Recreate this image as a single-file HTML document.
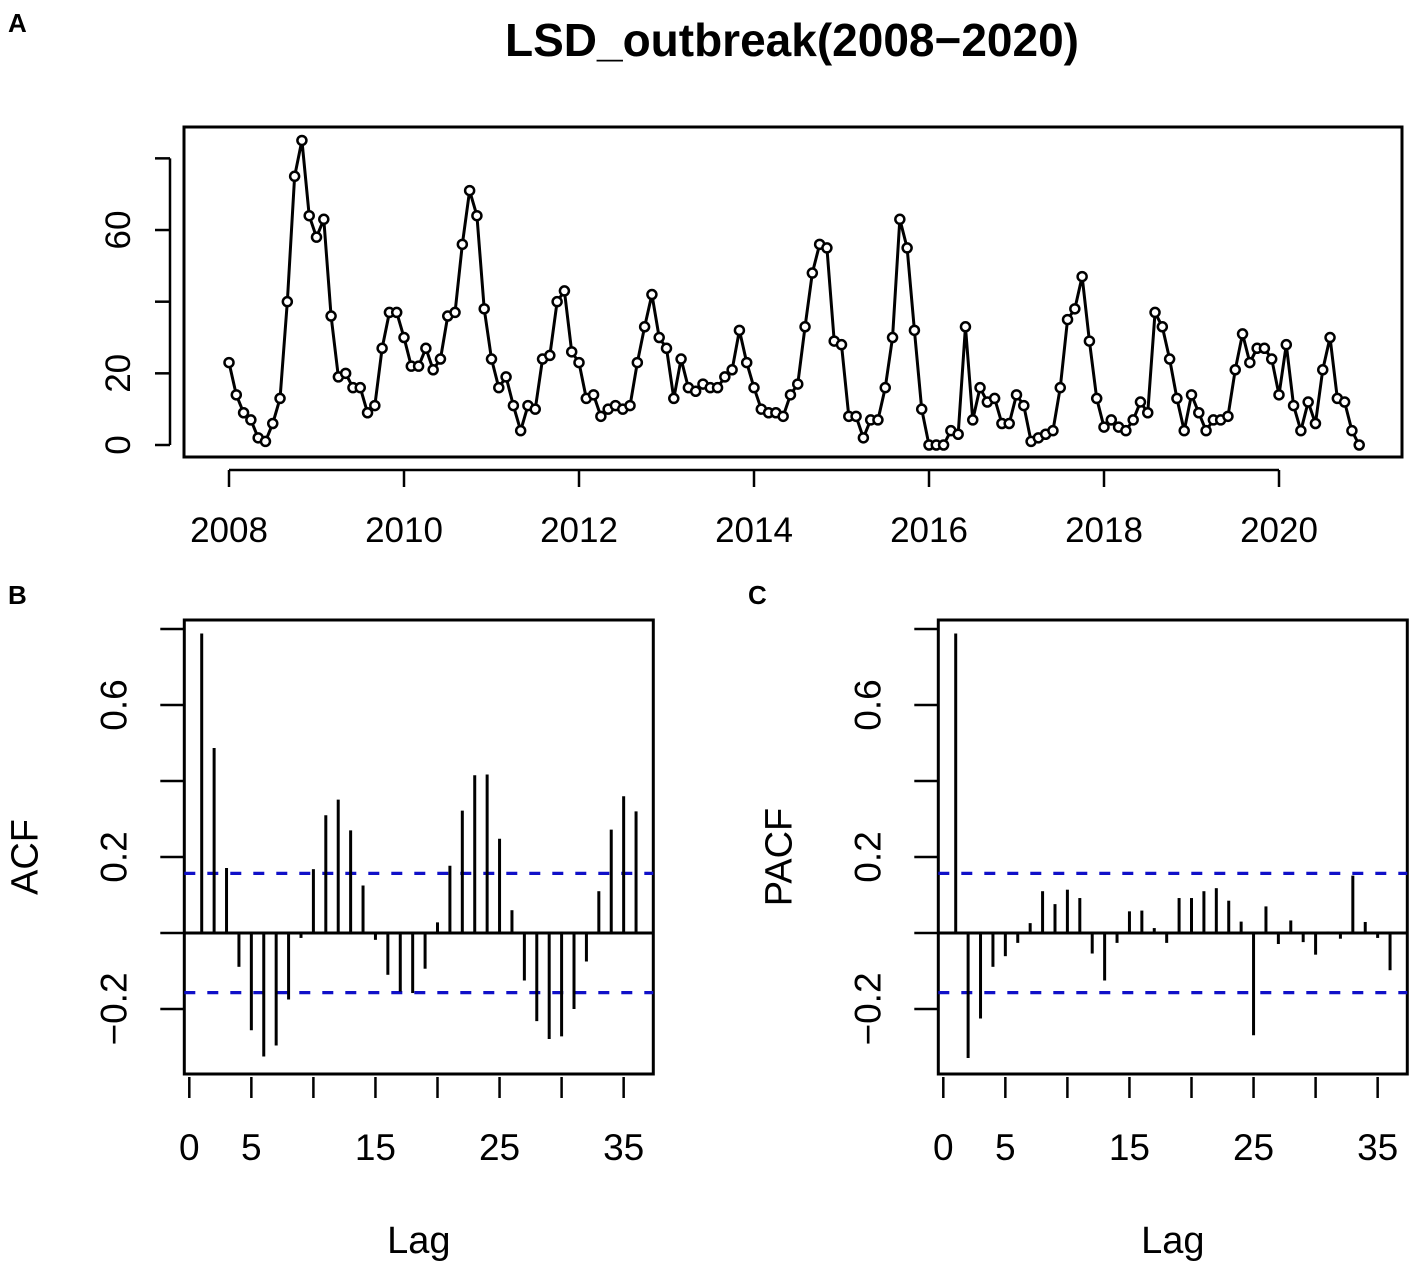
<!DOCTYPE html>
<html><head><meta charset="utf-8"><style>
html,body{margin:0;padding:0;background:#fff;}
svg{display:block;font-family:"Liberation Sans",Arial,sans-serif;}
</style></head><body>
<svg id="fig" width="1414" height="1267" viewBox="0 0 1414 1267">
<text x="8" y="32" font-size="26" font-weight="bold">A</text>
<text x="8" y="604" font-size="26" font-weight="bold">B</text>
<text x="748" y="604" font-size="26" font-weight="bold">C</text>
<text x="792" y="56" font-size="46" font-weight="bold" text-anchor="middle">LSD_outbreak(2008−2020)</text>
<g id="topPanel"></g>
<g id="acf"></g>
<g id="pacf"></g>
</svg>
<script>
const outbreaks2008 = [23,14,9,7,2,1,6,13,40,75,85,64];
const outbreaks2009 = [58,63,36,19,20,16,16,9,11,27,37,37];
const outbreaks2010 = [30,22,22,27,21,24,36,37,56,71,64,38];
const outbreaks2011 = [24,16,19,11,4,11,10,24,25,40,43,26];
const outbreaks2012 = [23,13,14,8,10,11,10,11,23,33,42,30];
const outbreaks2013 = [27,13,24,16,15,17,16,16,19,21,32,23];
const outbreaks2014 = [16,10,9,9,8,14,17,33,48,56,55,29];
const outbreaks2015 = [28,8,8,2,7,7,16,30,63,55,32,10];
const outbreaks2016 = [0,0,0,4,3,33,7,16,12,13,6,6];
const outbreaks2017 = [14,11,1,2,3,4,16,35,38,47,29,13];
const outbreaks2018 = [5,7,5,4,7,12,9,37,33,24,13,4];
const outbreaks2019 = [14,9,4,7,7,8,21,31,23,27,27,24];
const outbreaks2020 = [14,28,11,4,12,6,21,30,13,12,4,0];
const startYear = 2008;
const yearTicks = [2008,2010,2012,2014,2016,2018,2020];
const countTicks = [0,20,40,60,80];
const countTickLabels = ["0","20","","60",""];
const acfValues = [0.788,0.487,0.171,-0.089,-0.256,-0.325,-0.296,-0.175,-0.013,0.168,0.310,0.351,0.270,0.125,-0.018,-0.110,-0.154,-0.158,-0.094,0.028,0.177,0.322,0.415,0.417,0.248,0.060,-0.125,-0.232,-0.279,-0.272,-0.200,-0.075,0.110,0.272,0.360,0.320];
const pacfValues = [0.788,-0.329,-0.225,-0.089,-0.061,-0.026,0.026,0.110,0.076,0.114,0.092,-0.054,-0.125,-0.026,0.057,0.059,0.013,-0.026,0.092,0.092,0.110,0.118,0.085,0.030,-0.269,0.070,-0.029,0.033,-0.024,-0.057,0.004,-0.015,0.151,0.029,-0.013,-0.098];
const confBound = 0.157;
const lagTicks = [0,5,10,15,20,25,30,35];
const lagTickLabels = ["0","5","","15","","25","","35"];
const corrTicks = [-0.2,0,0.2,0.4,0.6,0.8];
const corrTickLabels = ["−0.2","","0.2","","0.6",""];

const NS="http://www.w3.org/2000/svg";
function mk(tag, attrs, parent){const e=document.createElementNS(NS,tag);for(const k in attrs)e.setAttribute(k,attrs[k]);parent.appendChild(e);return e;}

const series=[].concat(outbreaks2008,outbreaks2009,outbreaks2010,outbreaks2011,outbreaks2012,outbreaks2013,outbreaks2014,outbreaks2015,outbreaks2016,outbreaks2017,outbreaks2018,outbreaks2019,outbreaks2020);
const tp=document.getElementById('topPanel');
const xT=t=>229+(t-2008)*87.5;
const yT=v=>445-v*3.583;
let r=mk('rect',{x:184,y:127,width:1218,height:330,fill:'none',stroke:'#000','stroke-width':3},tp);


let ax=mk('line',{x1:xT(2008),x2:xT(2020),y1:470,y2:470,stroke:'#000','stroke-width':2.5},tp);


yearTicks.forEach(y=>{
  const t=mk('line',{x1:xT(y),x2:xT(y),y1:470,y2:487,stroke:'#000','stroke-width':2.5},tp);
  
  
  const l=mk('text',{x:xT(y),y:542,'font-size':35,'text-anchor':'middle'},tp);l.textContent=y;
  
  
});
let ay=mk('line',{x1:170,x2:170,y1:yT(0),y2:yT(80),stroke:'#000','stroke-width':2.5},tp);


countTicks.forEach((v,i)=>{
  const t=mk('line',{x1:155,x2:170,y1:yT(v),y2:yT(v),stroke:'#000','stroke-width':2.5},tp);
  
  
  if(countTickLabels[i]){
    const l=mk('text',{x:0,y:0,'font-size':35,'text-anchor':'middle',transform:`translate(130,${yT(v)}) rotate(-90)`},tp);l.textContent=countTickLabels[i];
    
    
  }
});
const pts=series.map((v,i)=>[xT(startYear+i/12),yT(v)]);
let pl=mk('polyline',{points:pts.map(p=>p.join(',')).join(' '),fill:'none',stroke:'#000','stroke-width':3},tp);


pts.forEach(p=>{
  const c=mk('circle',{cx:p[0],cy:p[1],r:4.5,fill:'#fff',stroke:'#000','stroke-width':2.5},tp);
  
  
});

function corr(g, vals, lag0X, label){
  const xL=l=>lag0X+l*12.41;
  const yC=v=>933-v*380;
  const left=lag0X-5, right=lag0X+464;
  const fr=mk('rect',{x:left,y:620,width:right-left,height:454,fill:'none',stroke:'#000','stroke-width':3},g);
  
  
  const z=mk('line',{x1:left,x2:right,y1:yC(0),y2:yC(0),stroke:'#000','stroke-width':3},g);
  
  
  [confBound,-confBound].forEach(b=>{
    const d=mk('line',{x1:left,x2:right,y1:yC(b),y2:yC(b),stroke:'#1010c8','stroke-width':3.2,'stroke-dasharray':'11,12'},g);
    
    
  });
  vals.forEach((v,i)=>{
    const b=mk('line',{x1:xL(i+1),x2:xL(i+1),y1:yC(0),y2:yC(v),stroke:'#000','stroke-width':3},g);
    
    
  });
  lagTicks.forEach((l,i)=>{
    const t=mk('line',{x1:xL(l),x2:xL(l),y1:1077,y2:1098,stroke:'#000','stroke-width':2.5},g);
    
    
    if(lagTickLabels[i]){
      const tx=mk('text',{x:xL(l),y:1160,'font-size':37,'text-anchor':'middle'},g);tx.textContent=lagTickLabels[i];
      
      
    }
  });
  corrTicks.forEach((v,i)=>{
    const t=mk('line',{x1:left-24,x2:left,y1:yC(v),y2:yC(v),stroke:'#000','stroke-width':2.5},g);
    
    
    if(corrTickLabels[i]){
      const tx=mk('text',{x:0,y:0,'font-size':37,'text-anchor':'middle',transform:`translate(${left-58},${yC(v)}) rotate(-90)`},g);tx.textContent=corrTickLabels[i];
      
      
    }
  });
  const xl=mk('text',{x:(left+right)/2,y:1253,'font-size':38,'text-anchor':'middle'},g);xl.textContent='Lag';
  
  
  const yl=mk('text',{x:0,y:0,'font-size':38,'text-anchor':'middle',transform:`translate(${left-147},${yC(0.2)}) rotate(-90)`},g);yl.textContent=label;
  
  
}
corr(document.getElementById('acf'),acfValues,189.3,'ACF');
corr(document.getElementById('pacf'),pacfValues,943.3,'PACF');
</script>
</body></html>
